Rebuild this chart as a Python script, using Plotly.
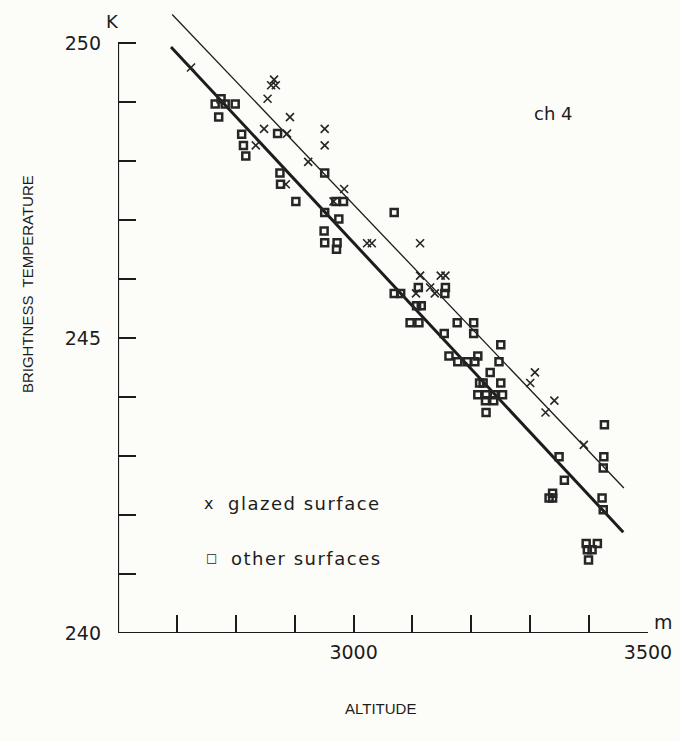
import plotly.graph_objects as go

# ---------------- data ----------------
glazed_alt = [2724, 2865, 2860, 2868, 2854, 2892, 2848, 2887, 2951, 2951,
              2834, 2923, 2885, 2984, 2966, 3023, 3031, 3113, 3113, 3148,
              3156, 3130, 3106, 3138, 3308, 3300, 3326, 3341, 3391]
glazed_tb = [249.59, 249.385, 249.29, 249.29, 249.06, 248.75, 248.55, 248.47, 248.55, 248.27,
             248.27, 247.99, 247.61, 247.53, 247.32, 246.61, 246.61, 246.61, 246.06, 246.06,
             246.06, 245.86, 245.76, 245.76, 244.42, 244.24, 243.74, 243.94, 243.19]

other_alt = [2775, 2765, 2782, 2799, 2771, 2871, 2810, 2813, 2817, 2875,
             2951, 2876, 2902, 2970, 2983, 3069, 2951, 2975, 2950, 2951,
             2972, 2971, 3110, 3156, 3069, 3080, 3155, 3107, 3115, 3096,
             3111, 3176, 3204, 3154, 3204, 3250, 3162, 3211, 3177, 3193,
             3206, 3247, 3232, 3214, 3220, 3250, 3211, 3225, 3239, 3253,
             3224, 3238, 3225, 3426, 3349, 3425, 3424, 3358, 3338, 3338,
             3332, 3422, 3424, 3395, 3414, 3397, 3405, 3399]
other_tb = [249.06, 248.97, 248.97, 248.97, 248.75, 248.47, 248.46, 248.27, 248.09, 247.80,
            247.80, 247.61, 247.32, 247.32, 247.32, 247.13, 247.13, 247.02, 246.82, 246.62,
            246.62, 246.51, 245.86, 245.86, 245.76, 245.76, 245.76, 245.55, 245.55, 245.26,
            245.26, 245.26, 245.26, 245.08, 245.08, 244.89, 244.70, 244.70, 244.60, 244.60,
            244.60, 244.60, 244.42, 244.24, 244.24, 244.24, 244.04, 244.04, 244.04, 244.04,
            243.94, 243.94, 243.74, 243.53, 242.99, 242.99, 242.80, 242.59, 242.37, 242.29,
            242.29, 242.29, 242.09, 241.52, 241.52, 241.41, 241.41, 241.24]

fit_other_alt = [2690, 3458]
fit_other_tb = [249.94, 241.71]
fit_glazed_alt = [2692, 3459]
fit_glazed_tb = [250.49, 242.46]

x_tickvals = [2700, 2800, 2900, 3000, 3100, 3200, 3300, 3400, 3500]
x_ticktext = ["", "", "", "3000", "", "", "", "", "3500"]
y_tickvals = [240, 241, 242, 243, 244, 245, 246, 247, 248, 249, 250]
y_ticktext = ["240", "", "", "", "", "245", "", "", "", "", "250"]

x_axis_span = [2600, 3500]
y_axis_span = [240, 250]

# ---------------- styling ----------------
ink = "#1c1c1c"
bg = "#fcfcf8"
font_main = "DejaVu Sans"

fig = go.Figure()

fig.add_trace(go.Scatter(x=fit_glazed_alt, y=fit_glazed_tb, mode="lines",
                         line=dict(color=ink, width=1.3), showlegend=False, hoverinfo="skip"))
fig.add_trace(go.Scatter(x=fit_other_alt, y=fit_other_tb, mode="lines",
                         line=dict(color=ink, width=3), showlegend=False, hoverinfo="skip"))
fig.add_trace(go.Scatter(x=other_alt, y=other_tb, mode="markers",
                         marker=dict(symbol="square-open", size=7, color="#262626",
                                     line=dict(width=2.5, color="#262626")),
                         showlegend=False))
fig.add_trace(go.Scatter(x=glazed_alt, y=glazed_tb, mode="markers",
                         marker=dict(symbol="x-thin-open", size=8, color="#262626",
                                     line=dict(width=1.6, color="#262626")),
                         showlegend=False))

# axis lines (only over the labelled span)
fig.add_shape(type="line", xref="x", yref="y", x0=x_axis_span[0], x1=x_axis_span[1],
              y0=y_axis_span[0], y1=y_axis_span[0], line=dict(color=ink, width=2.2))
fig.add_shape(type="line", xref="x", yref="y", x0=x_axis_span[0], x1=x_axis_span[0],
              y0=y_axis_span[0], y1=y_axis_span[1], line=dict(color=ink, width=2.2))

fig.update_xaxes(range=[2600, 3500], showgrid=False, zeroline=False, showline=False,
                 ticks="inside", ticklen=18, tickwidth=2, tickcolor=ink,
                 tickvals=x_tickvals, ticktext=x_ticktext,
                 tickfont=dict(family=font_main, size=19, color=ink),
                 ticklabelstandoff=6)
fig.update_yaxes(range=[240, 250.6], showgrid=False, zeroline=False, showline=False,
                 ticks="inside", ticklen=18, tickwidth=2, tickcolor=ink,
                 tickvals=y_tickvals, ticktext=y_ticktext,
                 tickfont=dict(family=font_main, size=19, color=ink),
                 ticklabelstandoff=16)

ann = []
def txt(t, x, y, size, xanchor="center", yanchor="middle", angle=0, family=font_main):
    ann.append(dict(text=t, x=x, y=y, xref="paper", yref="paper", showarrow=False,
                    xanchor=xanchor, yanchor=yanchor, textangle=angle,
                    font=dict(family=family, size=size, color=ink)))

txt("K", -0.01, 0.978, 18)
txt("m", 1.030, 0.018, 19)
txt("ch 4", 0.820, 0.832, 18)
txt("x", 0.171, 0.208, 16)
txt('<span style="letter-spacing:1.5px">glazed surface</span>', 0.2045, 0.208, 18, xanchor="left")
txt("□", 0.176, 0.12, 12)
txt('<span style="letter-spacing:1.5px">other surfaces</span>', 0.210, 0.12, 18, xanchor="left")
txt("ALTITUDE", 0.495, -0.12, 15, family="Liberation Sans")
txt("BRIGHTNESS  TEMPERATURE", -0.172, 0.558, 15, angle=-90, family="Liberation Sans")

fig.update_layout(width=680, height=741, margin=dict(l=118, r=29, t=8, b=108),
                  paper_bgcolor=bg, plot_bgcolor=bg, annotations=ann, showlegend=False)

fig.write_html("out.html")
